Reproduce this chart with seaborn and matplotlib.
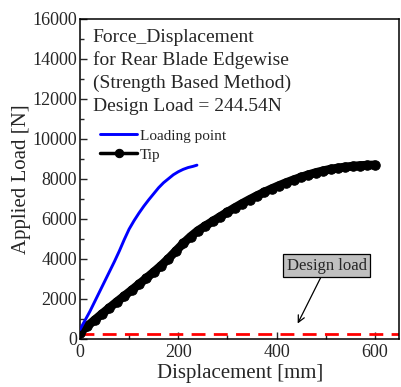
import matplotlib
matplotlib.use("Agg")
import matplotlib.pyplot as plt
from matplotlib.ticker import MultipleLocator
import seaborn as sns
import pandas as pd

sns.set_style("ticks")
plt.rcParams["font.family"] = ["Liberation Serif", "DejaVu Serif"]

# Loading point response
load_disp = [0, 10, 20, 30, 40, 50, 60, 70, 80, 90, 100, 110, 120, 130,
             140, 150, 160, 170, 180, 190, 200, 210, 220, 230, 238]
load_force = [450, 900, 1350, 1850, 2350, 2850, 3350, 3850, 4380, 4950,
              5480, 5900, 6280, 6630, 6950, 7250, 7550, 7800, 8000, 8200,
              8350, 8470, 8560, 8620, 8680]

# Blade tip response
tip_disp = [0, 15, 30, 45, 60, 75, 90, 105, 120, 135, 150, 165, 180, 195,
            210, 225, 240, 255, 270, 285, 300, 315, 330, 345, 360, 375, 390,
            405, 420, 435, 450, 465, 480, 495, 510, 525, 540, 555, 570, 585,
            600]
tip_force = [300, 620, 930, 1240, 1540, 1840, 2130, 2420, 2720, 3020,
             3330, 3650, 4000, 4380, 4760, 5100, 5400, 5640, 5870, 6100,
             6330, 6550, 6760, 6960, 7150, 7330, 7500, 7660, 7810, 7950,
             8080, 8200, 8310, 8400, 8480, 8540, 8590, 8630, 8660, 8680,
             8690]

design_load = 244.54

title_lines = ["Force_Displacement", "for Rear Blade Edgewise",
               "(Strength Based Method)", "Design Load = 244.54N"]

df_load = pd.DataFrame({"disp": load_disp, "force": load_force})
df_tip = pd.DataFrame({"disp": tip_disp, "force": tip_force})

fig = plt.figure(figsize=(4.01, 3.87), dpi=100)
ax = fig.add_axes([0.1995, 0.1253, 0.7965, 0.8257])

sns.lineplot(data=df_load, x="disp", y="force", ax=ax, color="#0000ff",
             lw=2.1, label="Loading point", sort=False, zorder=4)
sns.lineplot(data=df_tip, x="disp", y="force", ax=ax, color="black",
             lw=6.3, marker="o", markersize=6.8, markeredgecolor="black",
             label="Tip", sort=False, solid_capstyle="round", zorder=3)
ax.axhline(design_load, color="#ff0000", lw=2.0, dashes=(5, 3.0), zorder=2)

ax.set_xlim(0, 650)
ax.set_ylim(0, 16000)
ax.xaxis.set_major_locator(MultipleLocator(200))
ax.xaxis.set_minor_locator(MultipleLocator(100))
ax.yaxis.set_major_locator(MultipleLocator(2000))
ax.yaxis.set_minor_locator(MultipleLocator(1000))
ax.tick_params(which="both", direction="in", labelsize=13, width=1.0,
               pad=2)
ax.tick_params(axis="x", which="both", pad=4)
ax.tick_params(which="major", length=5)
ax.tick_params(which="minor", length=3)
for s in ax.spines.values():
    s.set_linewidth(1.1)
    s.set_color("black")

ax.set_xlabel("Displacement [mm]", fontsize=15, labelpad=2)
ax.set_ylabel("Applied Load [N]", fontsize=15, labelpad=1)

ax.text(0.04, 0.97, "\n".join(title_lines), transform=ax.transAxes,
        fontsize=14, va="top", ha="left", linespacing=1.42)

leg = ax.legend(loc="upper left", bbox_to_anchor=(0.045, 0.675),
                frameon=False, fontsize=11, handlelength=2.4,
                handletextpad=0.2, labelspacing=0.35, borderaxespad=0)
for h in leg.legend_handles:
    h.set_markersize(6)
    h.set_linewidth(2.1 if h.get_color() == "#0000ff" else 2.5)

ax.annotate("Design load", xy=(443, 750), xytext=(502, 3650),
            fontsize=12, ha="center", va="center",
            bbox=dict(boxstyle="square,pad=0.2", fc="#c0c0c0",
                      ec="black", lw=0.9),
            arrowprops=dict(arrowstyle="->", color="black", lw=0.9,
                            shrinkA=0, shrinkB=0, mutation_scale=12))

fig.savefig("out.png", dpi=100)
